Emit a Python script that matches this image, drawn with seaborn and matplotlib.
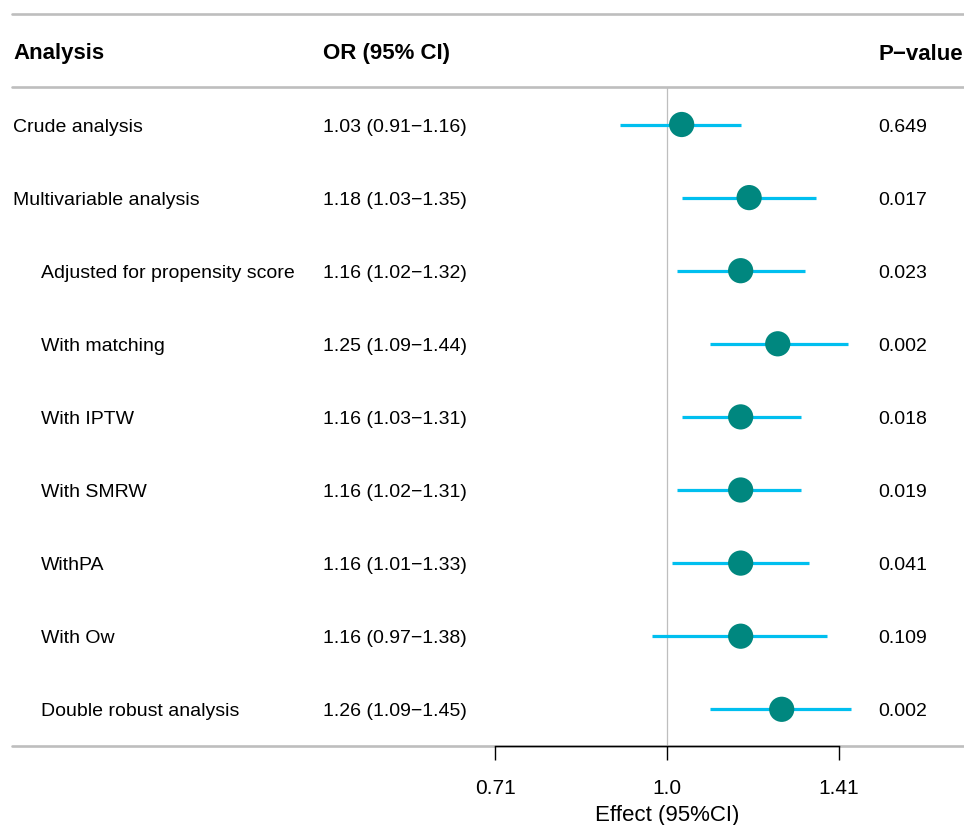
import numpy as np
import pandas as pd
import matplotlib
matplotlib.use("Agg")
import matplotlib.pyplot as plt
import matplotlib.transforms as mtransforms
import seaborn as sns

# ---- data ----
analyses = ["Crude analysis", "Multivariable analysis", "Adjusted for propensity score",
            "With matching", "With IPTW", "With SMRW", "WithPA", "With Ow",
            "Double robust analysis"]
level = [0, 0, 1, 1, 1, 1, 1, 1, 1]
odds_ratio = [1.03, 1.18, 1.16, 1.25, 1.16, 1.16, 1.16, 1.16, 1.26]
ci_low = [0.91, 1.03, 1.02, 1.09, 1.03, 1.02, 1.01, 0.97, 1.09]
ci_high = [1.16, 1.35, 1.32, 1.44, 1.31, 1.31, 1.33, 1.38, 1.45]
p_values = [0.649, 0.017, 0.023, 0.002, 0.018, 0.019, 0.041, 0.109, 0.002]
headers = ["Analysis", "OR (95% CI)", "P\u2212value"]
tick_values = [2 ** -0.5, 1.0, 2 ** 0.5]
tick_labels = ["0.71", "1.0", "1.41"]
x_label = "Effect (95%CI)"

df = pd.DataFrame({"analysis": analyses, "level": level, "OR": odds_ratio,
                   "lo": ci_low, "hi": ci_high, "p": p_values})
df["row"] = np.arange(len(df))

sns.set_theme(style="white")
plt.rcParams["font.family"] = ["Liberation Sans", "DejaVu Sans"]
plt.rcParams["text.color"] = "black"
plt.rcParams["axes.labelcolor"] = "black"
plt.rcParams["xtick.color"] = "black"

W, H = 964, 825
fig = plt.figure(figsize=(W / 100, H / 100), dpi=100)
ax = fig.add_axes([0, 0, 1, 1])

# pixel geometry helpers
x_ref_px, px_per_log2 = 667.0, 344.0
row0_px, row_step = 124.5, 73.1
def px_to_row(py):
    return (py - row0_px) / row_step

ax.set_xscale("log", base=2)
ax.set_xlim(2 ** ((0 - x_ref_px) / px_per_log2), 2 ** ((W - x_ref_px) / px_per_log2))
ax.set_ylim(px_to_row(H), px_to_row(0))

grey = "#BEBEBE"
# horizontal rules
for py in (14, 87, 746):
    ax.axhline(px_to_row(py), xmin=12 / W, xmax=1, color=grey, lw=1.9, zorder=1)
# reference line at 1
ax.vlines(1.0, px_to_row(87), px_to_row(746), color=grey, lw=0.9, zorder=1)

# CIs and points
ax.hlines(df["row"], df["lo"], df["hi"], color="#00BFEF", lw=2.3, zorder=2)
sns.scatterplot(data=df, x="OR", y="row", ax=ax, color="#00877F", s=330,
                edgecolor="none", linewidth=0, zorder=3, legend=False)
ax.set_xlabel("")
ax.set_ylabel("")
ax.axis("off")

# table text (baselines placed so cap height is centred on the row)
trans = mtransforms.blended_transform_factory(ax.transAxes, ax.transData)
col_x = [13 / W, 323 / W, 878 / W]
indent_x = 41 / W
body_shift = 7.2 / row_step
head_base = px_to_row(59.5)
for cx, h in zip(col_x, headers):
    ax.text(cx, head_base, h, transform=trans, ha="left", va="baseline",
            fontsize=16, fontweight="bold", color="black")
for _, r in df.iterrows():
    lx = col_x[0] if r["level"] == 0 else indent_x
    yb = r["row"] + body_shift
    ax.text(lx, yb, r["analysis"], transform=trans, ha="left", va="baseline",
            fontsize=14, color="black")
    ax.text(col_x[1], yb,
            f"{r['OR']:.2f} ({r['lo']:.2f}\u2212{r['hi']:.2f})",
            transform=trans, ha="left", va="baseline", fontsize=14, color="black")
    ax.text(col_x[2], yb, f"{r['p']:.3f}", transform=trans, ha="left",
            va="baseline", fontsize=14, color="black")

# x axis (separate axes covering 0.71..1.41)
x0_px = x_ref_px + px_per_log2 * np.log2(tick_values[0])
x1_px = x_ref_px + px_per_log2 * np.log2(tick_values[-1])
ax2 = fig.add_axes([x0_px / W, (H - 746) / H, (x1_px - x0_px) / W, 1e-4])
ax2.set_xscale("log", base=2)
ax2.set_xlim(tick_values[0], tick_values[-1])
for s in ("top", "left", "right"):
    ax2.spines[s].set_visible(False)
ax2.spines["bottom"].set_color("black")
ax2.spines["bottom"].set_linewidth(1.0)
ax2.set_yticks([])
ax2.set_xticks(tick_values)
ax2.set_xticklabels(tick_labels)
ax2.xaxis.set_minor_locator(matplotlib.ticker.NullLocator())
ax2.tick_params(axis="x", direction="out", length=10, width=1.0, color="black",
                labelsize=15, labelcolor="black", pad=13.5, bottom=True)
ax2.set_xlabel(x_label, fontsize=16, labelpad=5, color="black")
ax2.patch.set_alpha(0)

fig.savefig("out.png", dpi=100)
